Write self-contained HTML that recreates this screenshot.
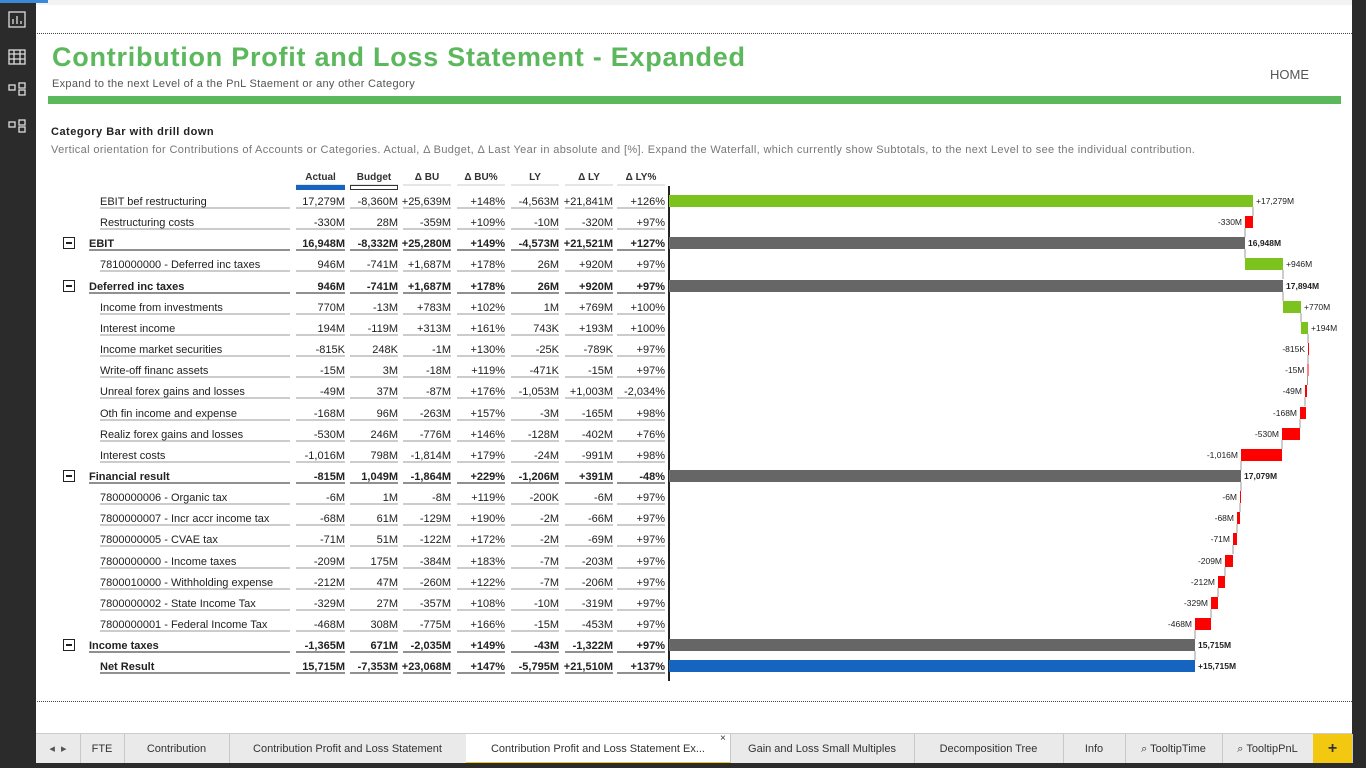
<!DOCTYPE html>
<html><head><meta charset="utf-8">
<style>
body{margin:0;width:1366px;height:768px;overflow:hidden;background:#fff;font-family:"Liberation Sans",Arial,sans-serif;position:relative}
.abs{position:absolute}
#side{left:0;top:0;width:36px;height:768px;background:#2b2b2b}
#right{left:1352px;top:0;width:14px;height:768px;background:#2b2b2b}
#tabs{left:36px;top:733px;width:1316px;height:30px;background:#eaeaea;border-top:1px solid #ccc}
.tab{position:absolute;top:0;height:30px;line-height:30px;text-align:center;font-size:11px;color:#333;border-right:1px solid #c8c8c8}
</style></head><body>
<div class="abs" id="side"></div>
<div class="abs" style="left:36px;top:0;width:1316px;height:5px;background:#f3f3f3"></div>
<div class="abs" style="left:0;top:0;width:48px;height:3px;background:#3a8ad8"></div>
<svg class="abs" style="left:0;top:0" width="36" height="140">
<g fill="none" stroke="#ddd" stroke-width="1.3">
<rect x="9" y="12" width="16" height="15"/><path d="M13 24v-5M17 24v-8M21 24v-3"/>
<rect x="9" y="50" width="16" height="14"/><path d="M9 54h16M9 59h16M14 50v14M20 50v14"/>
<rect x="9" y="85" width="6" height="5"/><rect x="19" y="90" width="6" height="5"/><rect x="19" y="83" width="6" height="5"/>
<rect x="9" y="122" width="6" height="5"/><rect x="19" y="127" width="6" height="5"/><rect x="19" y="120" width="6" height="5"/>
</g></svg>
<div class="abs" id="right"></div>
<div class="abs" style="left:37px;top:33px;width:1315px;border-top:1px dotted #444"></div>
<div class="abs" style="left:37px;top:701px;width:1315px;border-top:1px dotted #444"></div>
<div class="abs" style="left:52px;top:42px;font-size:27px;font-weight:bold;color:#5cb85c;letter-spacing:0.75px">Contribution Profit and Loss Statement - Expanded</div>
<div class="abs" style="left:52px;top:78px;font-size:11px;color:#555;letter-spacing:0.3px">Expand to the next Level of a the PnL Staement or any other Category</div>
<div class="abs" style="left:1270px;top:67px;font-size:13px;color:#555">HOME</div>
<div class="abs" style="left:48px;top:96px;width:1293px;height:8px;background:#5cb85c"></div>
<div class="abs" style="left:51px;top:126px;font-size:11px;font-weight:bold;color:#222;letter-spacing:0.5px">Category Bar with drill down</div>
<div class="abs" style="left:51px;top:144px;font-size:11px;color:#777;letter-spacing:0.36px">Vertical orientation for Contributions of Accounts or Categories. Actual, Δ Budget, Δ Last Year in absolute and [%]. Expand the Waterfall, which currently show Subtotals, to the next Level to see the individual contribution.</div>
<svg id="ch" class="abs" style="left:0;top:0" width="1352" height="700" font-family="Liberation Sans, Arial, sans-serif"></svg>
<div class="abs" id="tabs">
<div class="tab" style="left:0;width:44px;color:#555">◂ &nbsp;▸</div>
<div class="tab" style="left:44px;width:44px">FTE</div>
<div class="tab" style="left:88px;width:105px">Contribution</div>
<div class="tab" style="left:193px;width:237px">Contribution Profit and Loss Statement</div>
<div class="tab" style="left:430px;width:264px;background:#fff;border-bottom:2px solid #f2c811;height:28px">Contribution Profit and Loss Statement Ex...</div>
<div class="tab" style="left:694px;width:184px">Gain and Loss Small Multiples</div>
<div class="tab" style="left:878px;width:149px">Decomposition Tree</div>
<div class="tab" style="left:1027px;width:62px">Info</div>
<div class="tab" style="left:1089px;width:97px">⌕ TooltipTime</div>
<div class="tab" style="left:1186px;width:91px">⌕ TooltipPnL</div>
<div class="tab" style="left:1277px;width:39px;background:#f2c811;font-size:16px;font-weight:bold">+</div>
</div>
<div class="abs" style="left:720px;top:733px;font-size:10px;color:#333">×</div>
<div class="abs" style="left:0;top:763px;width:1366px;height:5px;background:#2b2b2b"></div>
<script>
var rows=[
["EBIT bef restructuring",0,["17,279M","-8,360M","+25,639M","+148%","-4,563M","+21,841M","+126%"],[669,1253],"g","+17,279M","r"],
["Restructuring costs",0,["-330M","28M","-359M","+109%","-10M","-320M","+97%"],[1245,1253],"r","-330M","l"],
["EBIT",1,["16,948M","-8,332M","+25,280M","+149%","-4,573M","+21,521M","+127%"],[669,1245],"k","16,948M","r"],
["7810000000 - Deferred inc taxes",0,["946M","-741M","+1,687M","+178%","26M","+920M","+97%"],[1245,1283],"g","+946M","r"],
["Deferred inc taxes",1,["946M","-741M","+1,687M","+178%","26M","+920M","+97%"],[669,1283],"k","17,894M","r"],
["Income from investments",0,["770M","-13M","+783M","+102%","1M","+769M","+100%"],[1283,1301],"g","+770M","r"],
["Interest income",0,["194M","-119M","+313M","+161%","743K","+193M","+100%"],[1301,1308],"g","+194M","r"],
["Income market securities",0,["-815K","248K","-1M","+130%","-25K","-789K","+97%"],[1308,1308.5],"r","-815K","l"],
["Write-off financ assets",0,["-15M","3M","-18M","+119%","-471K","-15M","+97%"],[1307.5,1308],"r","-15M","l"],
["Unreal forex gains and losses",0,["-49M","37M","-87M","+176%","-1,053M","+1,003M","-2,034%"],[1305,1307],"r","-49M","l"],
["Oth fin income and expense",0,["-168M","96M","-263M","+157%","-3M","-165M","+98%"],[1300,1306],"r","-168M","l"],
["Realiz forex gains and losses",0,["-530M","246M","-776M","+146%","-128M","-402M","+76%"],[1282,1300],"r","-530M","l"],
["Interest costs",0,["-1,016M","798M","-1,814M","+179%","-24M","-991M","+98%"],[1241,1282],"r","-1,016M","l"],
["Financial result",1,["-815M","1,049M","-1,864M","+229%","-1,206M","+391M","-48%"],[669,1241],"k","17,079M","r"],
["7800000006 - Organic tax",0,["-6M","1M","-8M","+119%","-200K","-6M","+97%"],[1240,1241],"r","-6M","l"],
["7800000007 - Incr accr income tax",0,["-68M","61M","-129M","+190%","-2M","-66M","+97%"],[1237,1240],"r","-68M","l"],
["7800000005 - CVAE tax",0,["-71M","51M","-122M","+172%","-2M","-69M","+97%"],[1233,1237],"r","-71M","l"],
["7800000000 - Income taxes",0,["-209M","175M","-384M","+183%","-7M","-203M","+97%"],[1225,1233],"r","-209M","l"],
["7800010000 - Withholding expense",0,["-212M","47M","-260M","+122%","-7M","-206M","+97%"],[1218,1225],"r","-212M","l"],
["7800000002 - State Income Tax",0,["-329M","27M","-357M","+108%","-10M","-319M","+97%"],[1211,1218],"r","-329M","l"],
["7800000001 - Federal Income Tax",0,["-468M","308M","-775M","+166%","-15M","-453M","+97%"],[1195,1211],"r","-468M","l"],
["Income taxes",1,["-1,365M","671M","-2,035M","+149%","-43M","-1,322M","+97%"],[669,1195],"k","15,715M","r"],
["Net Result",2,["15,715M","-7,353M","+23,068M","+147%","-5,795M","+21,510M","+137%"],[669,1195],"b","+15,715M","r"]];
var colR=[345,398,451,505,559,613,665],colL=[296,350,403,457,511,565,617];
var hdr=["Actual","Budget","Δ BU","Δ BU%","LY","Δ LY","Δ LY%"];
var col={g:"#7dc31d",r:"#f00",k:"#666",b:"#1565c0"};
var s="";
hdr.forEach(function(h,i){var c=(colL[i]+colR[i])/2;s+='<text x="'+c+'" y="180" font-size="10" font-weight="bold" text-anchor="middle" fill="#333">'+h+'</text><line x1="'+colL[i]+'" x2="'+colR[i]+'" y1="185" y2="185" stroke="#ccc"/>';});
s+='<rect x="296" y="185" width="49" height="5" fill="#1565c0"/><rect x="350.5" y="185.5" width="47" height="4" fill="#fff" stroke="#333"/>';
s+='<line x1="669" x2="669" y1="186" y2="681" stroke="#222" stroke-width="2"/>';
rows.forEach(function(r,i){
 var y=Math.round(201+i*21.15), b=r[1]>0, fw=b?'bold':'normal';
 var lx=r[1]==1?89:100;
 if(r[1]==1) s+='<rect x="63.5" y="'+(y-5.5)+'" width="11" height="11" fill="#fff" stroke="#222"/><line x1="66" x2="72" y1="'+y+'" y2="'+y+'" stroke="#222" stroke-width="2"/>';
 s+='<text x="'+lx+'" y="'+(y+4)+'" font-size="11" font-weight="'+fw+'" fill="#222">'+r[0]+'</text>';
 s+='<line x1="'+lx+'" x2="290" y1="'+(y+7)+'" y2="'+(y+7)+'" stroke="'+(b?'#222':'#999')+'"/>';
 r[2].forEach(function(v,j){s+='<text x="'+colR[j]+'" y="'+(y+4)+'" font-size="11" font-weight="'+fw+'" text-anchor="end" fill="#222">'+v+'</text><line x1="'+colL[j]+'" x2="'+colR[j]+'" y1="'+(y+7)+'" y2="'+(y+7)+'" stroke="'+(b?'#222':'#999')+'"/>';});
 var x1=r[3][0],x2=r[3][1],w=Math.max(x2-x1,1);
 s+='<rect x="'+x1+'" y="'+(y-6)+'" width="'+w+'" height="12" fill="'+col[r[4]]+'"/>';
 var tx=r[6]=="r"?x2+3:x1-3, an=r[6]=="r"?"start":"end";
 s+='<text x="'+tx+'" y="'+(y+3)+'" font-size="8.5" font-weight="'+(b?'bold':'normal')+'" text-anchor="'+an+'" fill="#222">'+r[5]+'</text>';
 if(i<rows.length-1){var nx=(r[4]=="r")?x1:x2; s+='<line x1="'+nx+'" x2="'+nx+'" y1="'+(y+6)+'" y2="'+(y+15)+'" stroke="#999"/>';}
});
document.getElementById('ch').innerHTML=s;
</script>
</body></html>
